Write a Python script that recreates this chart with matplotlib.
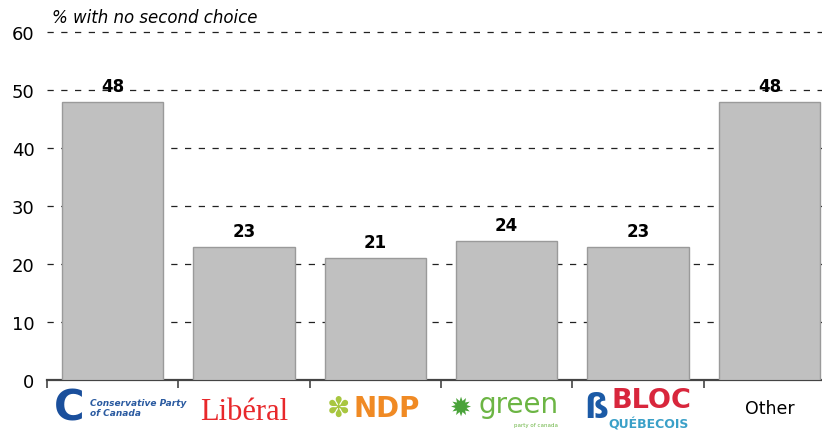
import numpy as np
import matplotlib.pyplot as plt
from matplotlib.transforms import blended_transform_factory

parties = ['Conservative', 'Liberal', 'NDP', 'Green', 'Bloc', 'Other']
no_second = [48, 23, 21, 24, 23, 48]
yticks = [0, 10, 20, 30, 40, 50, 60]

fig = plt.figure(figsize=(8.22, 4.31), dpi=100)
ax = fig.add_axes([0.0572, 0.116, 0.9586, 0.8074])

x = np.arange(len(parties))
ax.bar(x, no_second, width=0.77, color='#c0c0c0', edgecolor='#9a9a9a', linewidth=1, zorder=3)
for xi, v in zip(x, no_second):
    ax.text(xi, v + 1.2, str(v), ha='center', va='bottom', fontsize=12, fontweight='bold', zorder=4)

ax.set_xlim(-0.5, len(parties) - 0.5)
ax.set_ylim(0, 60)
ax.set_yticks(yticks)
ax.tick_params(axis='y', length=0, labelsize=13, pad=9)
for g in yticks[1:]:
    ax.axhline(g, color='#222222', lw=0.9, ls=(0, (5, 6)), zorder=1, clip_on=False)

ax.set_xticks(np.arange(len(parties) + 1) - 0.5)
ax.set_xticklabels([])
ax.tick_params(axis='x', length=6, width=1.2, color='#444444', direction='out')
for s in ['top', 'right', 'left']:
    ax.spines[s].set_visible(False)
ax.spines['bottom'].set_color('#444444')
ax.spines['bottom'].set_linewidth(1.6)

# party "logos" as text
tr = blended_transform_factory(ax.transData, ax.transAxes)
ly = -0.08
ax.text(-0.33, ly, 'C', transform=tr, ha='center', va='center', fontsize=30,
        fontweight='bold', color='#1a4f9c')
ax.text(-0.17, ly, 'Conservative Party\nof Canada', transform=tr, ha='left', va='center',
        fontsize=6.5, style='italic', fontweight='bold', color='#2a5aa0', linespacing=1.1)
ax.text(1, ly - 0.01, 'Libéral', transform=tr, ha='center', va='center', fontsize=22,
        family='Liberation Serif', color='#e8282b')
ax.text(2.09, ly, 'NDP', transform=tr, ha='center', va='center', fontsize=20,
        fontweight='heavy', color='#f08a24')
ax.text(1.72, ly, '✽', transform=tr, ha='center', va='center', fontsize=20, color='#a8c640')
ax.text(2.65, ly, '✹', transform=tr, ha='center', va='center', fontsize=19, color='#4aa33a')
ax.text(3.09, ly + 0.01, 'green', transform=tr, ha='center', va='center', fontsize=20,
        color='#6cb544')
ax.text(3.22, ly - 0.048, 'party of canada', transform=tr, ha='center', va='center',
        fontsize=4, color='#6cb544')
ax.text(3.68, ly, 'ß', transform=tr, ha='center', va='center', fontsize=24,
        fontweight='bold', color='#1b5aa6')
ax.text(4.1, ly + 0.022, 'BLOC', transform=tr, ha='center', va='center', fontsize=19.5,
        fontweight='bold', color='#d8263c')
ax.text(4.08, ly - 0.045, 'QUÉBECOIS', transform=tr, ha='center', va='center', fontsize=9,
        fontweight='bold', color='#3aa0c8')
ax.text(5, ly, 'Other', transform=tr, ha='center', va='center', fontsize=12.5, color='black')

fig.text(52 / 822, 1 - 18 / 431, '% with no second choice', ha='left', va='center',
         fontsize=12, style='italic')

fig.savefig('out.png', dpi=100)
